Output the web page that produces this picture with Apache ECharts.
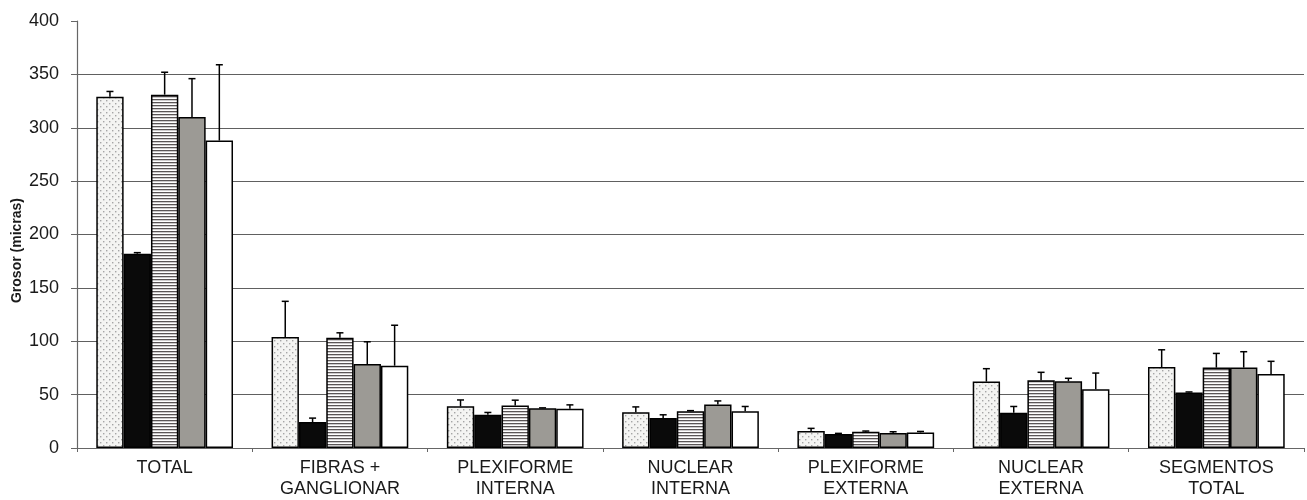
<!DOCTYPE html>
<html><head><meta charset="utf-8">
<script src="https://cdn.jsdelivr.net/npm/echarts@6/dist/echarts.min.js"></script>
<style>html,body{margin:0;padding:0;background:#fff}#c{width:1307px;height:500px}</style>
</head><body><div id="c"></div>
<script>
const categories = ['TOTAL','FIBRAS +\nGANGLIONAR','PLEXIFORME\nINTERNA','NUCLEAR\nINTERNA','PLEXIFORME\nEXTERNA','NUCLEAR\nEXTERNA','SEGMENTOS\nTOTAL'];
const yTicks = [0,50,100,150,200,250,300,350,400];
const yTitle = 'Grosor (micras)';
// means per group (series)
const s1 = [329, 104, 39, 33.6, 15.9, 62.2, 75.9];
const s2 = [182, 24.3, 31.1, 28, 13.1, 33, 52];
const s3 = [331, 103.3, 39.8, 34.5, 15.2, 63.4, 75.3];
const s4 = [310, 78.7, 37.3, 40.8, 14, 62.5, 75.3];
const s5 = [288, 77.1, 36.7, 34.5, 14.6, 55, 69.3];
// error bar tops
const e1 = [334, 137.4, 45, 38.5, 18.4, 74.3, 92];
const e2 = [183, 28, 33.3, 31.1, 13.7, 38.9, 52.5];
const e3 = [352, 107.9, 44.8, 35, 15.9, 70.9, 88.6];
const e4 = [346, 99.5, 37.6, 44.1, 15.2, 65.3, 90.2];
const e5 = [359, 115, 40.4, 38.9, 15.5, 70.2, 81.2];
const seriesNames = ['Grupo 1','Grupo 2','Grupo 3','Grupo 4','Grupo 5'];

function dotPattern(){
  const c=document.createElement('canvas');c.width=6;c.height=6;const g=c.getContext('2d');
  g.fillStyle='#f4f4f2';g.fillRect(0,0,6,6);
  g.fillStyle='#a5a5a5';g.fillRect(1,1,1.4,1.4);g.fillRect(4,4,1.4,1.4);
  return {image:c,repeat:'repeat'};
}
function stripePattern(){
  const c=document.createElement('canvas');c.width=4;c.height=3;const g=c.getContext('2d');
  g.fillStyle='#ffffff';g.fillRect(0,0,4,3);
  g.fillStyle='#5a5556';g.fillRect(0,0,4,1.3);
  return {image:c,repeat:'repeat'};
}
const FONT='Liberation Sans, Arial, sans-serif';
const fills=[dotPattern(),'#0a0a0a',stripePattern(),'#9c9a95','#ffffff'];
const means=[s1,s2,s3,s4,s5], tops=[e1,e2,e3,e4,e5];
const GAP=0.22, N=5;
const errData=[];
means.forEach((m,si)=>m.forEach((v,ci)=>errData.push([ci,v,tops[si][ci],si])));

const chart=echarts.init(document.getElementById('c'),null,{renderer:'canvas'});
const series=means.map((m,i)=>({
  name:seriesNames[i],type:'bar',data:m,barGap:'0%',barCategoryGap:(GAP*100)+'%',
  itemStyle:{color:fills[i],borderColor:'#000',borderWidth:1.5},
  emphasis:{disabled:true},animation:false
}));
series.push({
  type:'custom',data:errData,z:10,animation:false,
  renderItem:function(params,api){
    const ci=api.value(0),mean=api.value(1),top=api.value(2),si=api.value(3);
    const b=api.coord([ci,mean]),t=api.coord([ci,top]);
    const band=api.size([1,0])[0];
    const bw=band*(1-GAP)/N;
    const x=b[0]+(si-2)*bw;
    const st={stroke:'#000',lineWidth:1.5};
    return {type:'group',children:[
      {type:'line',shape:{x1:x,y1:b[1],x2:x,y2:t[1]},style:st},
      {type:'line',shape:{x1:x-3.5,y1:t[1],x2:x+3.5,y2:t[1]},style:st}
    ]};
  }
});
chart.setOption({
  animation:false,
  grid:{left:77,right:3,top:21,bottom:50,containLabel:false},
  graphic:[{type:'text',left:10,top:198,rotation:Math.PI/2,
    style:{text:yTitle,fill:'#1a1a1a',font:'bold 14px '+FONT}}],
  xAxis:{type:'category',data:categories,
    axisLine:{lineStyle:{color:'#666',width:1.2}},
    axisTick:{show:true,length:4,lineStyle:{color:'#666'}},
    axisLabel:{color:'#1a1a1a',fontSize:18,fontFamily:FONT,margin:10,lineHeight:21,interval:0}
  },
  yAxis:{type:'value',min:0,max:400,interval:50,
    axisLine:{show:true,lineStyle:{color:'#666',width:1.2}},
    axisTick:{show:true,length:6,lineStyle:{color:'#666'}},
    axisLabel:{color:'#1a1a1a',fontSize:18,fontFamily:FONT,margin:18,
      formatter:v=>yTicks.includes(v)?String(v):''},
    splitLine:{show:true,showMaxLine:false,lineStyle:{color:'#606060',width:1.2}}
  },
  series:series
});
</script></body></html>
